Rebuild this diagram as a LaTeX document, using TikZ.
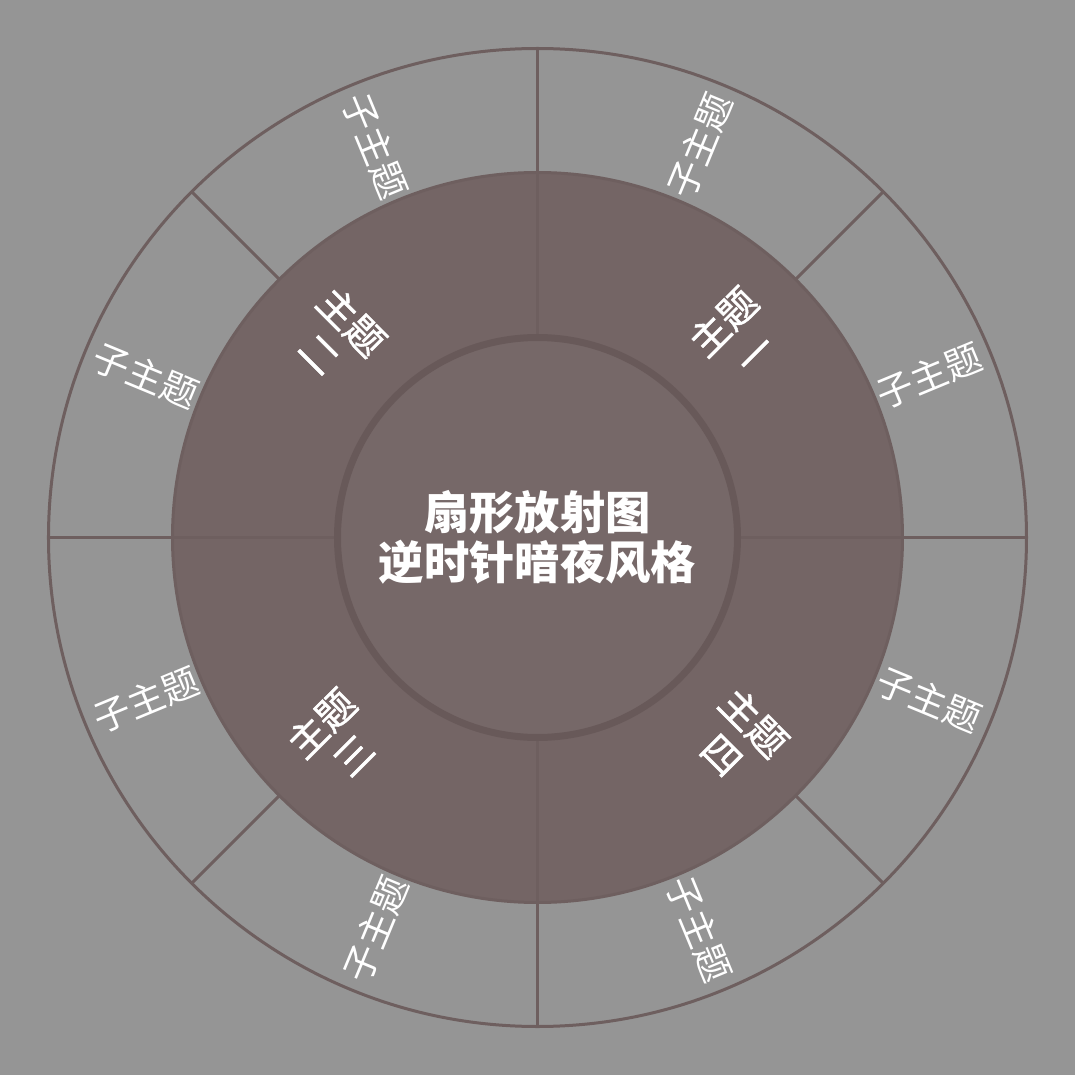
\documentclass[tikz,border=0pt]{standalone}
\usepackage{fontspec}
\setmainfont{Noto Sans CJK SC}
\newfontfamily\topicfont[FakeBold=1.2]{Noto Sans CJK SC}
\definecolor{bgc}{RGB}{149,149,149}
\definecolor{midc}{RGB}{116,101,101}
\definecolor{innerc}{RGB}{118,104,104}
\definecolor{innerline}{RGB}{104,89,89}
\definecolor{linec}{RGB}{110,95,95}
\begin{document}
\begin{tikzpicture}[x=0.75pt,y=0.75pt,
  ringline/.style={draw=linec, line width=2.25pt},
  subtopic/.style={text=white, inner sep=0pt, font=\fontsize{27.5}{32}\selectfont},
  topic/.style={text=white, inner sep=0pt, align=center, font=\topicfont\fontsize{29}{34}\selectfont},
  titletext/.style={text=white, inner sep=0pt, align=center, font=\bfseries\fontsize{34}{37.5}\selectfont}]
\fill[bgc] (-537.5,-537.5) rectangle (537.5,537.5);
\useasboundingbox (-537.5,-537.5) rectangle (537.5,537.5);
\draw[ringline, fill=bgc] (0,0) circle (489);
\draw[ringline, fill=midc] (0,0) circle (365);
\foreach \a in {0,45,...,315} \draw[ringline] (\a:365) -- (\a:489);
\foreach \a in {0,90,180,270} \draw[ringline] (\a:200) -- (\a:365);
\draw[draw=innerline, line width=5.25pt, fill=innerc] (0,0) circle (200);
\foreach \a/\r/\n in {22.5/22.5/s1, 67.5/67.5/s2, 112.5/-67.5/s3, 157.5/-22.5/s4,
                      202.5/22.5/s5, 247.5/67.5/s6, 292.5/-67.5/s7, 337.5/-22.5/s8}
  \node[subtopic, rotate=\r] (\n) at (\a:424) {子主题};
\node[topic, rotate=45]  (t1) at (45:284)  {主题\\一};
\node[topic, rotate=-45] (t2) at (135:284) {主题\\二};
\node[topic, rotate=45]  (t3) at (225:284) {主题\\三};
\node[topic, rotate=-45] (t4) at (315:284) {主题\\四};
\node[titletext] (center) at (0,0) {扇形放射图\\逆时针暗夜风格};
\end{tikzpicture}
\end{document}
